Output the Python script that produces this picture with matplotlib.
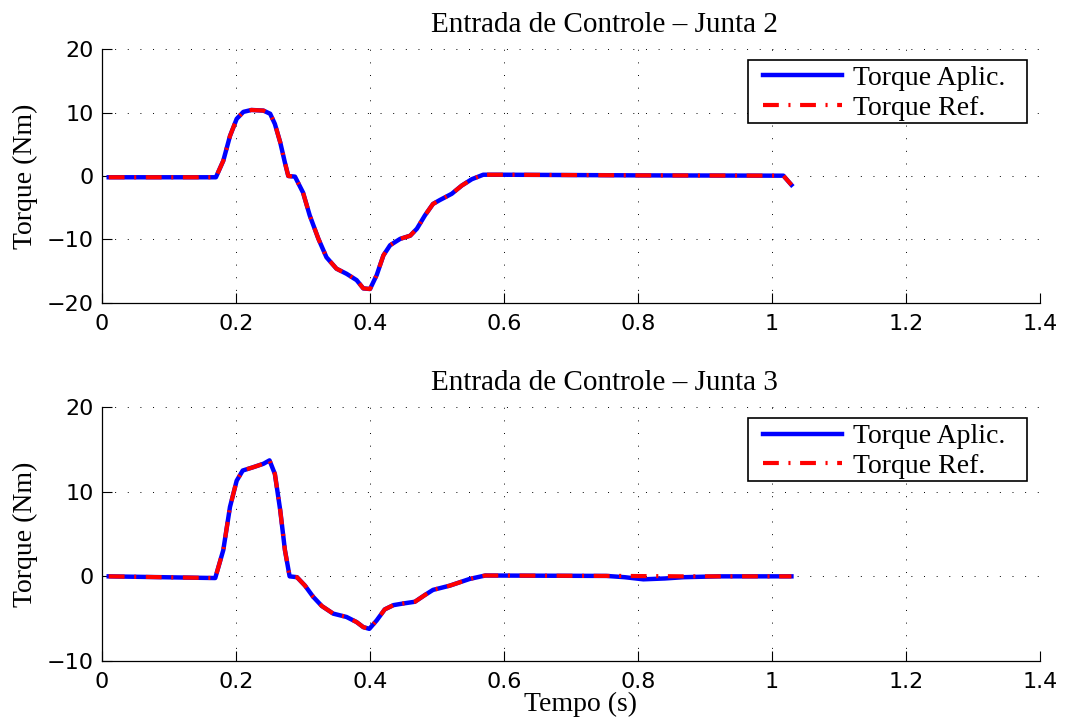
import matplotlib
matplotlib.use("Agg")
import matplotlib.pyplot as plt
from matplotlib.patches import Rectangle

# Junta 2
t_j2 = [0.01, 0.17, 0.181, 0.191, 0.201, 0.211, 0.223, 0.241, 0.251, 0.258,
        0.266, 0.273, 0.278, 0.288, 0.300, 0.310, 0.323, 0.335, 0.350, 0.365,
        0.380, 0.390, 0.400, 0.410, 0.420, 0.430, 0.445, 0.460, 0.470, 0.482,
        0.494, 0.504, 0.522, 0.537, 0.552, 0.569, 0.60, 0.80, 1.017, 1.029]
aplic_j2 = [-0.2, -0.2, 2.4, 6.3, 9.0, 10.1, 10.4, 10.3, 9.8, 8.2,
            5.3, 2.1, 0.0, -0.1, -2.6, -6.2, -9.9, -12.8, -14.6, -15.4,
            -16.4, -17.7, -17.8, -15.6, -12.5, -10.9, -9.9, -9.4, -8.3, -6.2,
            -4.4, -3.8, -2.8, -1.5, -0.5, 0.2, 0.2, 0.1, 0.05, -1.4]
ref_j2 = list(aplic_j2)

# Junta 3
t_j3 = [0.01, 0.169, 0.181, 0.191, 0.201, 0.210, 0.226, 0.241, 0.250, 0.258,
        0.266, 0.273, 0.280, 0.291, 0.303, 0.315, 0.328, 0.345, 0.365, 0.380,
        0.390, 0.399, 0.410, 0.422, 0.435, 0.450, 0.467, 0.482, 0.494, 0.519,
        0.549, 0.572, 0.753, 0.780, 0.808, 0.840, 0.868, 0.92, 1.029]
aplic_j3 = [0, -0.2, 3.1, 8.2, 11.3, 12.5, 12.9, 13.3, 13.7, 12.1,
            7.8, 3.1, 0, -0.1, -1.1, -2.4, -3.5, -4.4, -4.8, -5.4,
            -6.0, -6.2, -5.2, -3.9, -3.4, -3.2, -3.0, -2.2, -1.6, -1.1,
            -0.3, 0.1, 0.05, -0.1, -0.35, -0.25, -0.1, 0, 0]
ref_j3 = aplic_j3[:32] + [0.05, 0.05, 0.03, 0.02, 0.0, 0.0, 0.0]

x_ticks = [0, 0.2, 0.4, 0.6, 0.8, 1.0, 1.2, 1.4]
x_labels = ["0", "0.2", "0.4", "0.6", "0.8", "1", "1.2", "1.4"]

serif = "Liberation Serif"
sans = "DejaVu Sans"

fig = plt.figure(figsize=(10.66, 7.24), dpi=100)


def draw(ax, t, aplic, ref, title, ylim, yticks, xlabel=None):
    ax.plot(t, aplic, color="#0000ff", lw=3.2, solid_joinstyle="round",
            label="Torque Aplic.", zorder=3)
    ax.plot(t, ref, color="#ff0000", lw=3.0, dashes=(3.8, 2.3, 0.5, 2.3),
            dash_capstyle="butt", label="Torque Ref.", zorder=4)
    ax.set_xlim(0, 1.4)
    ax.set_ylim(*ylim)
    ax.set_xticks(x_ticks)
    ax.set_xticklabels(x_labels)
    ax.set_yticks(yticks)
    ax.set_yticklabels([str(v).replace("-", "\u2212") for v in yticks])
    for lab in ax.get_xticklabels() + ax.get_yticklabels():
        lab.set_fontfamily(sans)
        lab.set_fontsize(16)
    ax.tick_params(direction="in", length=7, width=0.8, color="black")
    ax.tick_params(axis="x", pad=8)
    ax.tick_params(axis="y", pad=6)
    ax.grid(True, color="black", lw=0.7, linestyle=(0, (1, 12)))
    ax.set_axisbelow(True)
    ax.spines["top"].set_visible(False)
    ax.spines["right"].set_visible(False)
    ax.spines["left"].set_linewidth(0.9)
    ax.spines["bottom"].set_linewidth(0.9)
    ttl = ax.set_title(title, fontfamily=serif, fontsize=21, pad=12)
    ttl.set_x(0.536)
    ax.set_ylabel("Torque (Nm)", fontfamily=serif, fontsize=20, labelpad=6)
    if xlabel:
        ax.set_xlabel(xlabel, fontfamily=serif, fontsize=20)
        ax.xaxis.set_label_coords(0.51, -0.12)
        ax.xaxis.label.set_va("top")
    # legend box
    ax.add_patch(Rectangle((0.689, 0.709), 0.297, 0.248, transform=ax.transAxes,
                           facecolor="white", edgecolor="black", lw=1.2,
                           zorder=5))
    leg = ax.legend(loc="upper left", bbox_to_anchor=(0.7047, 0.934),
                    prop={"family": serif, "size": 20}, frameon=False,
                    borderpad=0, handlelength=2.85, handletextpad=0.4,
                    labelspacing=0.15, borderaxespad=0)
    leg.set_zorder(6)


ax1 = fig.add_axes([0.0957, 0.5815, 0.8799, 0.3508])
draw(ax1, t_j2, aplic_j2, ref_j2, "Entrada de Controle \u2013 Junta 2",
     (-20, 20), [-20, -10, 0, 10, 20])

ax2 = fig.add_axes([0.0957, 0.087, 0.8799, 0.3508])
draw(ax2, t_j3, aplic_j3, ref_j3, "Entrada de Controle \u2013 Junta 3",
     (-10, 20), [-10, 0, 10, 20], xlabel="Tempo (s)")

plt.savefig("out.png", dpi=100)
